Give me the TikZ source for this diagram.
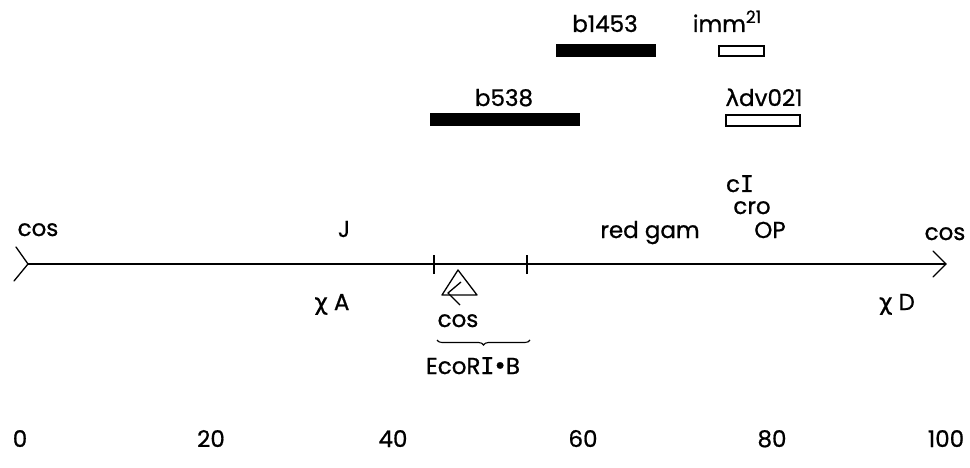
\documentclass[tikz,border=0pt]{standalone}
\usepackage{fontspec}
\setmainfont{Poppins}[FakeBold=0.8]
\newfontfamily\greekfont{DejaVu Sans}[FakeBold=0.8]
\newfontfamily\serifI{DejaVu Sans Mono}[FakeBold=0.8]
\newcommand{\barI}{{\serifI I}}
\newcommand{\middot}{\kern-1pt{\greekfont •}\kern-1pt}
\usetikzlibrary{decorations.pathreplacing}
\begin{document}
\begin{tikzpicture}[x=1pt,y=-1pt,
  every node/.style={font=\fontsize{23}{26}\selectfont, inner sep=0pt},
  lbl/.style={anchor=base},
  solidbar/.style={fill=black, draw=black, line width=1pt},
  openbar/.style={fill=white, draw=black, line width=1.3pt},
  axisline/.style={line width=1.3pt, line cap=round, line join=round},
  tickmark/.style={line width=1.2pt}]
\useasboundingbox (0,0) rectangle (970,468);

% map segments above the axis
\draw[solidbar] (556,45) rectangle (655,57);
\node[lbl] (b1453) at (605,32) {b1453};
\draw[openbar] (719,46) rectangle (764,56);
\node[lbl] (imm) at (727,32) {imm\raisebox{9pt}{\fontsize{17}{17}\selectfont 21}};
\draw[solidbar] (430,114) rectangle (579,126);
\node[lbl] (b538) at (504,106) {b538};
\draw[openbar] (726,115) rectangle (800,126);
\node[lbl] (ldv) at (764,106) {{\greekfont λ}dv021};

% main axis with open ends
\coordinate (L) at (28,264);
\coordinate (R) at (946,264);
\draw[axisline] (L) -- (R);
\draw[axisline] (16,247) -- (L) -- (14,281);
\draw[axisline] (933,251) -- (R) -- (933,277);

% EcoRI-B fragment boundaries
\coordinate (t1) at (434,264);
\coordinate (t2) at (527,264);
\draw[tickmark] ([yshift=-10]t1) -- ([yshift=9]t1);
\draw[tickmark] ([yshift=-10]t2) -- ([yshift=9]t2);

% inserted cos site
\draw[line width=1.3pt, line join=round] (458,270) -- (477,295) -- (442,295) -- cycle;
\draw[line width=1.3pt, line join=round] (461,282) -- (448,293) -- (460,305);
\node[lbl] (cosmid) at (458,327) {cos};
\draw[line width=1.1pt, decorate, decoration={brace, amplitude=5pt, mirror}]
  (437,340) -- (530,340);
\node[lbl] (ecori) at (473,374) {EcoR\barI\middot B};

% gene labels
\node[lbl] (cosL) at (38,236) {cos};
\node[lbl] (J) at (344,237) {J};
\node[lbl] (redgam) at (650,238) {red gam};
\node[lbl] (cI) at (740,192) {c\barI};
\node[lbl] (cro) at (752,214) {cro};
\node[lbl] (OP) at (770,238) {OP};
\node[lbl] (cosR) at (945,240) {cos};
\node[lbl] (chiA) at (332,310) {{\greekfont χ} A};
\node[lbl] (chiD) at (897,310) {{\greekfont χ} D};

% scale
\foreach \v/\x in {0/20,20/211,40/393,60/583,80/772,100/946}
  \node[lbl] (s\v) at (\x,447) {\v};
\end{tikzpicture}
\end{document}
